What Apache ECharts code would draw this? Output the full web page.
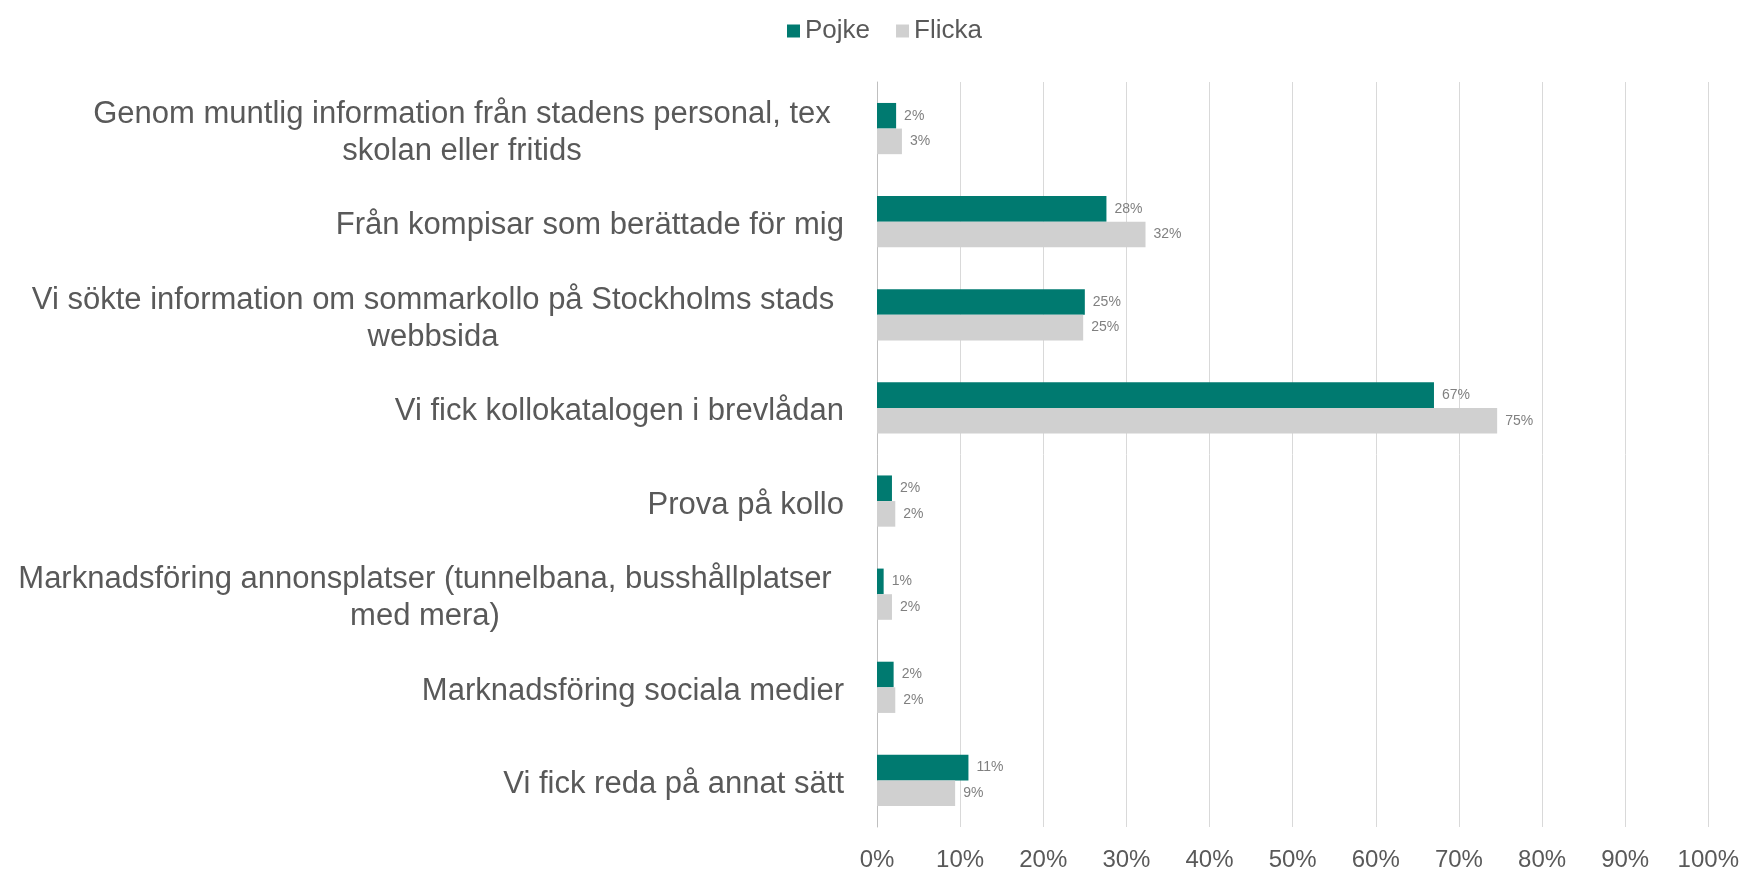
<!DOCTYPE html>
<html>
<head>
<meta charset="utf-8">
<script src="https://cdn.jsdelivr.net/npm/echarts@6/dist/echarts.min.js"></script>
<style>
  html, body { margin: 0; padding: 0; background: #fff; }
  #chart { width: 1742px; height: 872px; }
</style>
</head>
<body>
<div id="chart"></div>
<script>
// categories top to bottom
const categories = [
  'Genom muntlig information från stadens personal, tex\nskolan eller fritids',
  'Från kompisar som berättade för mig',
  'Vi sökte information om sommarkollo på Stockholms stads\nwebbsida',
  'Vi fick kollokatalogen i brevlådan',
  'Prova på kollo',
  'Marknadsföring annonsplatser (tunnelbana, busshållplatser\nmed mera)',
  'Marknadsföring sociala medier',
  'Vi fick reda på annat sätt'
]
const pojke = [2.3, 27.6, 25.0, 67.0, 1.8, 0.8, 2.0, 11.0]
const flicka = [3.0, 32.3, 24.8, 74.6, 2.2, 1.8, 2.2, 9.4]
const xTicks = [0, 10, 20, 30, 40, 50, 60, 70, 80, 90, 100]

const chart = echarts.init(document.getElementById('chart'))

const labelFont = { fontFamily: 'Liberation Sans', fontSize: 31, lineHeight: 37, color: '#595959' }

// wrapped labels: lines centered in a box, box right-aligned at the axis
const boxWidths = { 0: 764, 2: 822, 5: 838 }
function catLabel (value, index) {
  if (value.indexOf('\n') < 0) return value
  const key = 'w' + index
  return value.split('\n').map(l => '{' + key + '|' + l + '}').join('\n')
}
const rich = {}
Object.keys(boxWidths).forEach(k => {
  rich['w' + k] = Object.assign({ width: boxWidths[k], align: 'center' }, labelFont)
})

const valueLabel = {
  show: true,
  position: 'right',
  distance: 8,
  fontFamily: 'Liberation Sans',
  fontSize: 14,
  color: '#808080',
  formatter: p => Math.round(p.value) + '%'
}

chart.setOption({
  animation: false,
  legend: {
    top: 13,
    left: 782,
    itemWidth: 13,
    itemHeight: 13,
    itemGap: 26,
    icon: 'rect',
    textStyle: { fontFamily: 'Liberation Sans', fontSize: 26, color: '#595959' },
    data: ['Pojke', 'Flicka']
  },
  grid: { left: 877, right: 32, top: 82, bottom: 38 },
  xAxis: {
    type: 'value',
    min: 0,
    max: 100,
    interval: 10,
    axisLine: { show: false },
    axisTick: { show: false },
    splitLine: { lineStyle: { color: '#d9d9d9', width: 1 } },
    axisLabel: {
      margin: 21,
      fontFamily: 'Liberation Sans',
      fontSize: 24,
      color: '#595959',
      formatter: v => xTicks.indexOf(v) >= 0 ? v + '%' : ''
    }
  },
  yAxis: {
    type: 'category',
    inverse: true,
    data: categories,
    axisLine: { lineStyle: { color: '#bfbfbf' } },
    axisTick: { length: 8, lineStyle: { color: '#bfbfbf' } },
    axisLabel: Object.assign({ margin: 33, padding: [8, 0, 0, 0], formatter: catLabel, rich: rich }, labelFont)
  },
  series: [
    {
      name: 'Pojke',
      type: 'bar',
      data: pojke,
      barGap: '0%',
      barCategoryGap: '45%',
      itemStyle: { color: '#007a70' },
      label: valueLabel
    },
    {
      name: 'Flicka',
      type: 'bar',
      data: flicka,
      barGap: '0%',
      barCategoryGap: '45%',
      itemStyle: { color: '#d0d0d0' },
      label: valueLabel
    }
  ]
})
</script>
</body>
</html>
